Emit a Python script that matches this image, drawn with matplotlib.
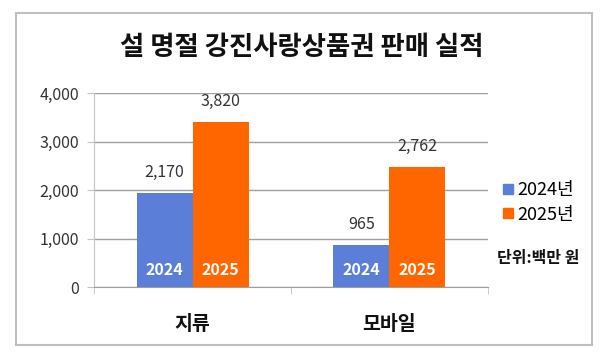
import matplotlib.pyplot as plt
from matplotlib.patches import Rectangle
from matplotlib.lines import Line2D

plt.rcParams['font.family'] = ['Noto Sans CJK KR', 'DejaVu Sans']

# --- datos ---
categories = ['지류', '모바일']
years = ['2024', '2025']
legend_labels = ['2024년', '2025년']
# alturas de barra tal como se dibujan en la imagen
bars_2024 = [1935, 865]
bars_2025 = [3400, 2470]
# etiquetas de valor que muestra el grafico
labels_2024 = ['2,170', '965']
labels_2025 = ['3,820', '2,762']
yticks = [0, 1000, 2000, 3000, 4000]

col_2024 = '#5B7FD8'
col_2025 = '#FF6600'
grid_col = '#9E9E9E'
axis_col = '#C4C4C4'

fig = plt.figure(figsize=(6, 3.58), dpi=100)
ax = fig.add_axes([0.157, 0.198, 0.656, 0.542])

# marco exterior
fig.patches.append(Rectangle((0.027, 0.036), 0.960, 0.928, transform=fig.transFigure,
                             fill=False, edgecolor='#BFBFBF', linewidth=1.5))

w = 0.285
x = range(len(categories))
b1 = ax.bar([i - w / 2 for i in x], bars_2024, width=w, color=col_2024, zorder=3)
b2 = ax.bar([i + w / 2 for i in x], bars_2025, width=w, color=col_2025, zorder=3)

for bars, labs, yr in [(b1, labels_2024, years[0]), (b2, labels_2025, years[1])]:
    for rect, lab in zip(bars, labs):
        cx = rect.get_x() + rect.get_width() / 2
        ax.annotate(lab, (cx, rect.get_height()), xytext=(0, 15), textcoords='offset points',
                    ha='center', va='center', fontsize=11.5, color='#333333')
        ax.annotate(yr, (cx, 0), xytext=(0, 12), textcoords='offset points',
                    ha='center', va='center', fontsize=11.5, color='white',
                    fontweight='bold', zorder=4)

ax.set_ylim(0, 4000)
ax.set_xlim(-0.5, 1.5)
ax.set_yticks(yticks)
ax.set_yticklabels([f'{v:,}' for v in yticks], fontsize=11.5, color='#333333')
ax.yaxis.grid(True, color=grid_col, linewidth=1, zorder=0)
ax.tick_params(axis='y', length=5, color=axis_col, pad=6)

ax.set_xticks(list(x))
ax.set_xticklabels(categories, fontsize=14, fontweight='bold', color='#111111')
ax.tick_params(axis='x', which='major', length=0, pad=20)
ax.set_xticks([-0.5, 0.5, 1.5], minor=True)
ax.tick_params(axis='x', which='minor', length=5, color=axis_col)

for s in ['top', 'right']:
    ax.spines[s].set_visible(False)
ax.spines['left'].set_color(axis_col)
ax.spines['bottom'].set_color(grid_col)

fig.text(0.503, 0.866, '설 명절 강진사랑상품권 판매 실적', ha='center', va='center',
         fontsize=19, fontweight='bold', color='#111111')

handles = [Line2D([], [], marker='s', linestyle='', color=col_2024, markersize=7),
           Line2D([], [], marker='s', linestyle='', color=col_2025, markersize=7)]
fig.legend(handles, legend_labels, loc='center left', bbox_to_anchor=(0.805, 0.434),
           frameon=False, handletextpad=0.0, handlelength=1.0, labelspacing=0.35,
           prop={'size': 13})

fig.text(0.828, 0.278, '단위:백만 원', ha='left', va='center', fontsize=11.5,
         fontweight='bold', color='#111111')

plt.savefig('out.png', dpi=100)
